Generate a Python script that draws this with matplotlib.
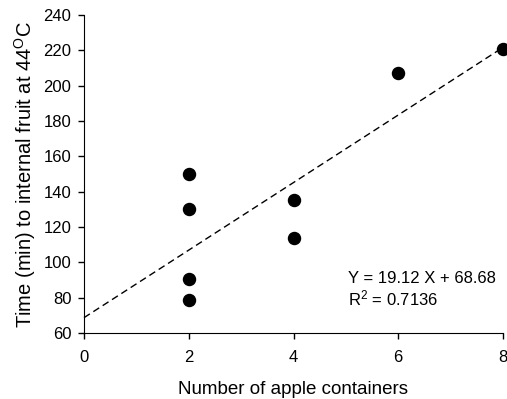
import numpy as np
import matplotlib
matplotlib.use("Agg")
import matplotlib.pyplot as plt

plt.rcParams['font.family'] = ['Liberation Sans', 'DejaVu Sans']
plt.rcParams['mathtext.fontset'] = 'custom'
plt.rcParams['mathtext.rm'] = 'Liberation Sans'
plt.rcParams['mathtext.it'] = 'Liberation Sans:italic'

containers = [2, 2, 2, 2, 4, 4, 6, 8]
time_min = [150, 130, 90.5, 78.5, 135, 113.5, 207, 220.5]
xticks = [0, 2, 4, 6, 8]
yticks = [60, 80, 100, 120, 140, 160, 180, 200, 220, 240]

slope, intercept = 19.12, 68.68

fig = plt.figure(figsize=(5.07, 3.99), dpi=100)
ax = fig.add_axes([84/507, 1-333/399, (503-84)/507, (333-15)/399])

xl = np.array([0, 8])
ax.plot(xl, slope*xl + intercept, color='black', lw=1, linestyle=(0, (5, 3)), clip_on=False)
ax.scatter(containers, time_min, s=75, color='black', zorder=3, clip_on=False)

ax.set_xlim(0, 8)
ax.set_ylim(60, 240)
ax.set_xticks(xticks)
ax.set_yticks(yticks)
ax.spines['top'].set_visible(False)
ax.spines['right'].set_visible(False)
ax.tick_params(direction='out', length=4, width=1, labelsize=12)
ax.tick_params(axis='x', pad=8)
ax.tick_params(axis='y', pad=5)
ax.set_xlabel('Number of apple containers', fontsize=13.5, labelpad=12)
ax.set_ylabel('Time (min) to internal fruit at 44$^{\\mathrm{O}}$C', fontsize=14.5, labelpad=4)

ax.text(348, 399-283, 'Y = 19.12 X + 68.68', transform=None, fontsize=12, va='baseline', ha='left')
ax.text(348, 399-305, 'R$^2$ = 0.7136', transform=None, fontsize=12, va='baseline', ha='left')

fig.savefig('out.png', dpi=100)
